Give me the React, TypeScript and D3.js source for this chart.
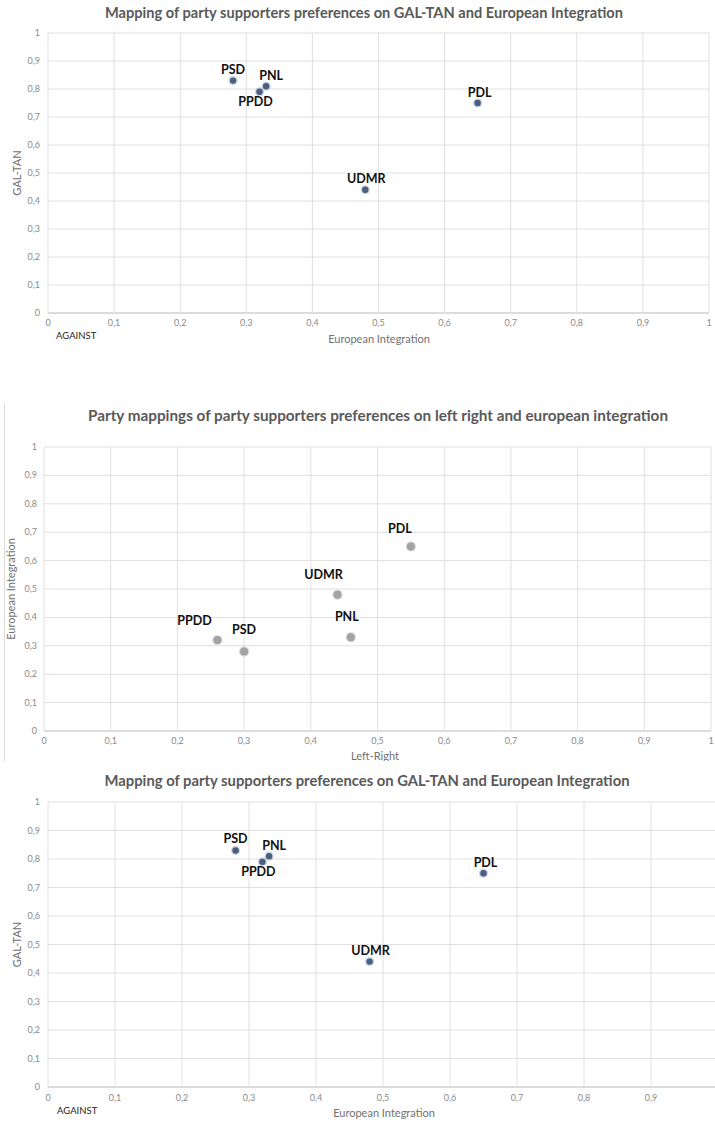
import * as d3 from "d3";

// party order is shared by every series below
const parties = ["PSD", "PNL", "PPDD", "PDL", "UDMR"];
const euIntegration = [0.28, 0.33, 0.32, 0.65, 0.48];
const galTan = [0.83, 0.81, 0.79, 0.75, 0.44];
const leftRight = [0.3, 0.46, 0.26, 0.55, 0.44];

const tickValues = [0, 0.1, 0.2, 0.3, 0.4, 0.5, 0.6, 0.7, 0.8, 0.9, 1];

const titleGalTan =
  "Mapping of party supporters preferences on GAL-TAN and European Integration";
const titleLeftRight =
  "Party mappings of party supporters preferences on left right and european integration";

const roLocale = d3.formatLocale({
  decimal: ",",
  thousands: ".",
  grouping: [3],
  currency: ["", " lei"],
});
const fmt = roLocale.format("~g");

const FONT = "Lato, 'Open Sans', sans-serif";
const W = 715;

type Offset = [number, number];

// label offsets from the dot, per party
const offsetsGalTan: Record<string, Offset> = {
  PSD: [0, -7],
  PNL: [5, -6],
  PPDD: [-4, 14],
  PDL: [2, -6],
  UDMR: [1, -7],
};
const offsetsLeftRight: Record<string, Offset> = {
  PSD: [0, -17],
  PNL: [-4, -16],
  PPDD: [-23, -15],
  PDL: [-11, -13],
  UDMR: [-14, -16],
};

interface PanelProps {
  x0: number;
  x1: number;
  yTop: number;
  yBot: number;
  title: string;
  titleX: number;
  titleY: number;
  titleLen: number;
  xTitle: string;
  xTitleX: number;
  xTitleY: number;
  yTitle: string;
  yTitleX: number;
  xLabelY: number;
  yLabelX: number;
  xs: number[];
  ys: number[];
  offsets: Record<string, Offset>;
  dotStyle: "blue" | "grey";
  against?: [number, number];
}

function Panel(p: PanelProps) {
  const x = d3.scaleLinear().domain([0, 1]).range([p.x0, p.x1]);
  const y = d3.scaleLinear().domain([0, 1]).range([p.yBot, p.yTop]);
  const midY = (p.yTop + p.yBot) / 2;

  return (
    <g>
      <text
        x={p.titleX}
        y={p.titleY}
        textAnchor="middle"
        fontFamily={FONT}
        fontWeight={700}
        fontSize={15}
        fill="#595959"
        textLength={p.titleLen}
        lengthAdjust="spacingAndGlyphs"
      >
        {p.title}
      </text>

      {/* gridlines */}
      {tickValues.map((t) => (
        <line
          key={"h" + t}
          x1={p.x0}
          x2={p.x1}
          y1={y(t)}
          y2={y(t)}
          stroke={t === 0 ? "#d0d0d0" : "#e0e0e0"}
          strokeWidth={t === 0 ? 1.4 : 1}
        />
      ))}
      {tickValues.map((t) => (
        <line
          key={"v" + t}
          x1={x(t)}
          x2={x(t)}
          y1={p.yTop}
          y2={p.yBot}
          stroke="#e0e0e0"
          strokeWidth={1}
        />
      ))}

      {/* tick labels */}
      {tickValues.map((t) => (
        <text
          key={"yl" + t}
          x={p.yLabelX}
          y={y(t) + 3}
          textAnchor="end"
          fontFamily={FONT}
          fontSize={9}
          fill="#8a8a8a"
        >
          {fmt(t)}
        </text>
      ))}
      {tickValues
        .filter((t) => x(t) < W - 3)
        .map((t) => (
          <text
            key={"xl" + t}
            x={x(t)}
            y={p.xLabelY}
            textAnchor="middle"
            fontFamily={FONT}
            fontSize={9}
            fill="#8a8a8a"
          >
            {fmt(t)}
          </text>
        ))}

      {p.against && (
        <text
          x={p.against[0]}
          y={p.against[1]}
          fontFamily={FONT}
          fontSize={9.5}
          fill="#262626"
        >
          AGAINST
        </text>
      )}

      <text
        x={p.xTitleX}
        y={p.xTitleY}
        textAnchor="middle"
        fontFamily={FONT}
        fontSize={11}
        fill="#707070"
      >
        {p.xTitle}
      </text>
      <text
        transform={`translate(${p.yTitleX},${midY}) rotate(-90)`}
        textAnchor="middle"
        fontFamily={FONT}
        fontSize={11}
        fill="#707070"
      >
        {p.yTitle}
      </text>

      {/* points */}
      {parties.map((name, i) => {
        const cx = x(p.xs[i]);
        const cy = y(p.ys[i]);
        return p.dotStyle === "blue" ? (
          <g key={"d" + name}>
            <circle cx={cx} cy={cy} r={4.6} fill="#9fb0c8" opacity={0.55} />
            <circle cx={cx} cy={cy} r={3.2} fill="#4d5f7e" />
          </g>
        ) : (
          <g key={"d" + name}>
            <circle cx={cx} cy={cy} r={5.2} fill="#c4c4c4" opacity={0.6} />
            <circle cx={cx} cy={cy} r={4} fill="#a3a3a3" />
          </g>
        );
      })}
      {parties.map((name, i) => {
        const [dx, dy] = p.offsets[name];
        return (
          <text
            key={"t" + name}
            x={x(p.xs[i]) + dx}
            y={y(p.ys[i]) + dy}
            textAnchor="middle"
            fontFamily={FONT}
            fontWeight={700}
            fontSize={12.5}
            fill="#111"
          >
            {name}
          </text>
        );
      })}
    </g>
  );
}

export default function App() {
  return (
    <svg
      width={W}
      height={1123}
      style={{ position: "absolute", left: 0, top: 0, background: "#fff" }}
    >
      <defs>
        <clipPath id="clipMid">
          <rect x={0} y={370} width={W} height={391} />
        </clipPath>
      </defs>

      <Panel
        x0={48}
        x1={709}
        yTop={33}
        yBot={313}
        title={titleGalTan}
        titleX={364}
        titleY={18}
        titleLen={518}
        xTitle="European Integration"
        xTitleX={379}
        xTitleY={343}
        yTitle="GAL-TAN"
        yTitleX={21}
        xLabelY={326}
        yLabelX={40}
        xs={euIntegration}
        ys={galTan}
        offsets={offsetsGalTan}
        dotStyle="blue"
        against={[56, 339]}
      />

      <g clipPath="url(#clipMid)">
        <line x1={4.5} x2={4.5} y1={404} y2={761} stroke="#d9d9d9" />
        <Panel
          x0={44}
          x1={711}
          yTop={447}
          yBot={731}
          title={titleLeftRight}
          titleX={378}
          titleY={421}
          titleLen={580}
          xTitle="Left-Right"
          xTitleX={375}
          xTitleY={760}
          yTitle="European Integration"
          yTitleX={15}
          xLabelY={744}
          yLabelX={37}
          xs={leftRight}
          ys={euIntegration}
          offsets={offsetsLeftRight}
          dotStyle="grey"
        />
      </g>

      <Panel
        x0={48}
        x1={718}
        yTop={802}
        yBot={1087}
        title={titleGalTan}
        titleX={367}
        titleY={786}
        titleLen={525}
        xTitle="European Integration"
        xTitleX={384}
        xTitleY={1117}
        yTitle="GAL-TAN"
        yTitleX={21}
        xLabelY={1101}
        yLabelX={40}
        xs={euIntegration}
        ys={galTan}
        offsets={offsetsGalTan}
        dotStyle="blue"
        against={[57, 1114]}
      />
    </svg>
  );
}
